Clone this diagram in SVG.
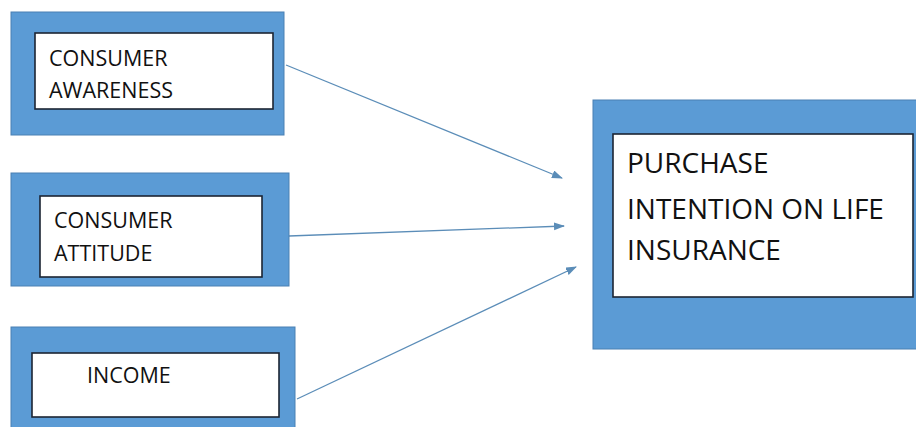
<svg xmlns="http://www.w3.org/2000/svg" width="916" height="427" viewBox="0 0 916 427">
<defs>
<style>
.outer{fill:#5b9bd5;stroke:#4a80b3;stroke-width:1}
.inner{fill:#ffffff;stroke:#1c2533;stroke-width:1.6}
.t{font-family:"Open Sans","Liberation Sans",sans-serif;fill:#111111}
.s{font-size:21.5px}
.l{font-size:28px}
.conn{stroke:#5b8db8;stroke-width:1.3;fill:none;marker-end:url(#ah)}
</style>
<marker id="ah" markerWidth="12" markerHeight="10" refX="10" refY="4" orient="auto" markerUnits="userSpaceOnUse">
<path d="M0,0 L11,4 L0,8 Z" fill="#5b8db8"/>
</marker>
</defs>
<rect width="916" height="427" fill="#ffffff"/>
<g id="connectors">
<line class="conn" x1="286" y1="65" x2="562" y2="178"/>
<line class="conn" x1="289" y1="236" x2="564" y2="226"/>
<line class="conn" x1="297" y1="399" x2="576" y2="267"/>
</g>
<g id="consumer-awareness">
<rect class="outer" x="11" y="12" width="273" height="123"/>
<rect class="inner" x="35" y="33" width="238" height="76"/>
<text class="t s" x="49" y="66">CONSUMER</text>
<text class="t s" x="49" y="98">AWARENESS</text>
</g>
<g id="consumer-attitude">
<rect class="outer" x="11" y="173" width="278" height="113"/>
<rect class="inner" x="40" y="196" width="222" height="81"/>
<text class="t s" x="54" y="228">CONSUMER</text>
<text class="t s" x="54" y="261">ATTITUDE</text>
</g>
<g id="income">
<rect class="outer" x="11" y="327" width="284" height="101"/>
<rect class="inner" x="32" y="353" width="247" height="64"/>
<text class="t s" x="87" y="383">INCOME</text>
</g>
<g id="purchase-intention">
<rect class="outer" x="593" y="100" width="324" height="249"/>
<rect class="inner" x="613" y="134" width="300" height="163"/>
<text class="t l" x="627" y="173">PURCHASE</text>
<text class="t l" x="627" y="219">INTENTION ON LIFE</text>
<text class="t l" x="627" y="260">INSURANCE</text>
</g>
</svg>
